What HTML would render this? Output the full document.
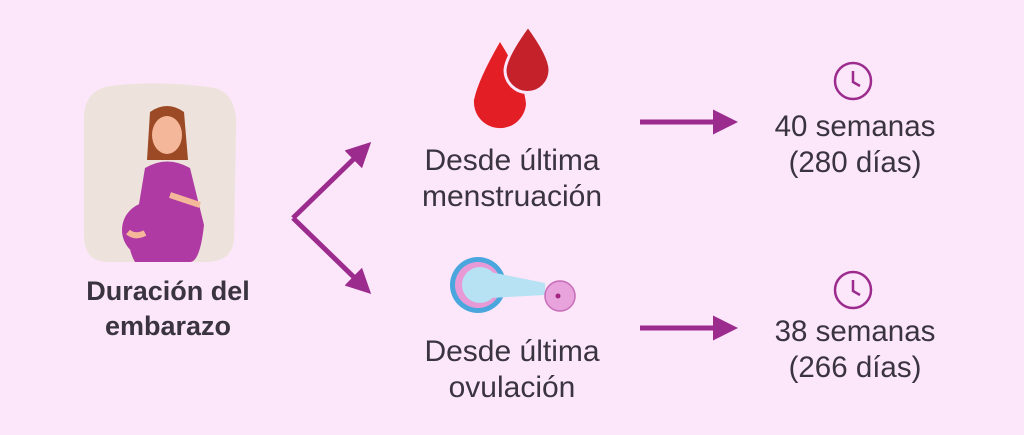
<!DOCTYPE html>
<html><head><meta charset="utf-8"><style>
body{margin:0;width:1024px;height:435px;background:#fce6f9;position:relative;overflow:hidden;font-family:"Liberation Sans",sans-serif;color:#3a3340}
.t{position:absolute;text-align:center;font-size:30px;line-height:36px}
</style></head><body>
<svg width="1024" height="435" style="position:absolute;left:0;top:0">
<defs><marker id="a" markerWidth="6" markerHeight="6" refX="3" refY="3" orient="auto" markerUnits="strokeWidth"><path d="M0,0.5 L5,3 L0,5.5 Z" fill="#9c2b8e"/></marker></defs>
<path d="M110,86 Q160,80 215,88 Q238,95 236,130 L234,240 Q232,262 205,262 L108,262 Q84,262 84,235 L84,115 Q86,90 110,86Z" fill="#ede3dc"/>
<path d="M150,112 Q167,100 184,112 L188,160 L147,160Z" fill="#9c4a26"/>
<ellipse cx="167" cy="135" rx="15" ry="19" fill="#f5b79a"/>
<path d="M145,168 Q167,155 190,168 L204,225 Q200,262 190,262 L135,262 Q122,240 138,210Z" fill="#b03aa4"/>
<circle cx="150" cy="230" r="28" fill="#b03aa4"/>
<path d="M170,195 Q185,200 200,205" stroke="#f5b79a" stroke-width="6" fill="none"/>
<path d="M128,232 Q135,238 145,233" stroke="#f5b79a" stroke-width="6" fill="none"/>
<g stroke="#9c2b8e" stroke-width="5" fill="none" marker-end="url(#a)">
<path d="M293,218 L364,149"/><path d="M293,218 L364,287"/>
<path d="M640,122 L728,122"/><path d="M640,328 L728,328"/>
</g>
<path d="M500,42 Q478,80 474,100 A26,26 0 1 0 526,104 Q524,80 500,42Z" fill="#e31e25"/>
<path d="M528,26 Q506,56 505,70 A22,22 0 1 0 550,70 Q550,56 528,26Z" fill="#c4212b" stroke="#fce6f9" stroke-width="3"/>
<circle cx="478" cy="285" r="28" fill="#4aa7de"/>
<circle cx="478" cy="285" r="23" fill="#e79ad6"/>
<circle cx="480" cy="285" r="18" fill="#b7e2f4"/>
<path d="M490,272 L545,283 L545,295 L490,298Z" fill="#b7e2f4"/>
<circle cx="560" cy="296" r="15" fill="#e9a3dc" stroke="#c86bb9" stroke-width="1.5"/>
<circle cx="558" cy="296" r="2.5" fill="#a32382"/>
<g stroke="#9c2b8e" stroke-width="2.5" fill="none">
<circle cx="853" cy="81" r="18"/><path d="M853,71 L853,82 L860,86"/>
<circle cx="853" cy="290" r="18"/><path d="M853,280 L853,291 L860,295"/>
</g>
</svg>
<div class="t" style="left:50px;width:236px;top:274px;font-weight:bold;font-size:27px;line-height:35px">Duración del<br>embarazo</div>
<div class="t" style="left:390px;width:244px;top:143px">Desde última<br>menstruación</div>
<div class="t" style="left:390px;width:244px;top:334px">Desde última<br>ovulación</div>
<div class="t" style="left:730px;width:250px;top:109px;font-size:29.5px">40 semanas<br>(280 días)</div>
<div class="t" style="left:730px;width:250px;top:314px;font-size:29.5px">38 semanas<br>(266 días)</div>
</body></html>
